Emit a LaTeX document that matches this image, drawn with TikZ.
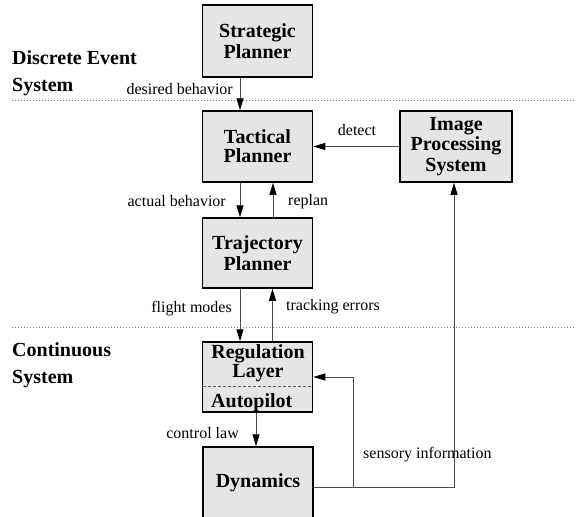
\documentclass[tikz,border=0pt]{standalone}
\usepackage{fontspec}
\setmainfont{Liberation Serif}
\usetikzlibrary{arrows.meta}

\tikzset{
  block/.style={draw=black, line width=1.5pt, fill=gray!20, minimum width=110pt,
    minimum height=71pt, align=center, inner sep=0pt,
    font=\fontsize{20}{20.5}\selectfont\bfseries},
  flow/.style={draw=gray!60!black, line width=0.9pt,
    -{Triangle[length=12pt,width=7pt,color=black]}},
  lbl/.style={font=\fontsize{16}{18}\selectfont, inner sep=0pt},
  layer/.style={font=\fontsize{20}{27}\selectfont\bfseries, align=left, inner sep=0pt},
  sep/.style={gray, line width=0.6pt, dash pattern=on 0.8pt off 2.2pt},
}

\begin{document}
\begin{tikzpicture}[x=1pt, y=-1pt]
  \useasboundingbox (0,0) rectangle (576,517);

  % level separators
  \draw[sep] (12,100) -- (576,100);
  \draw[sep] (12,327) -- (576,327);

  % level titles
  \node[layer, anchor=north west] (discrete) at (12,50) {Discrete Event\\System};
  \node[layer, anchor=north west] (continuous) at (12,342) {Continuous\\System};

  % blocks
  \node[block, minimum height=72pt] (strat) at (257.5,41) {Strategic\\Planner};
  \node[block, font=\fontsize{20}{19}\selectfont\bfseries] (tact) at (257.5,146.5) {Tactical\\Planner};
  \node[block, minimum width=112pt] (imgp) at (456,146.5) {Image\\Processing\\System};
  \node[block, minimum height=70pt] (traj) at (257.5,253) {Trajectory\\Planner};
  \node[block, minimum height=70pt] (reg) at (257.5,377) {};
  \node[block, minimum height=72pt] (dyn) at (258,483) {Dynamics};

  % regulation layer / autopilot split
  \coordinate (regsplit) at (0,386);
  \draw[gray!70!black, line width=0.8pt, dash pattern=on 3pt off 2pt]
    ([xshift=1pt]reg.west |- regsplit) -- ([xshift=-1pt]reg.east |- regsplit);
  \node[font=\fontsize{20}{19}\selectfont\bfseries, align=center, inner sep=0pt]
    (regtxt) at (258,363) {Regulation\\Layer};
  \node[font=\fontsize{20}{20}\selectfont\bfseries, inner sep=0pt, anchor=base west]
    (autotxt) at (211,407) {Autopilot};

  % vertical flows
  \draw[flow] ([xshift=-17.5pt]strat.south) -- ([xshift=-17.5pt]tact.north); % desired
  \draw[flow] ([xshift=-17.5pt]tact.south) -- ([xshift=-17.5pt]traj.north);  % actual
  \draw[flow] ([xshift=15.5pt]traj.north) -- ([xshift=15.5pt]tact.south);    % replan
  \draw[flow] ([xshift=-17.5pt]traj.south) -- ([xshift=-17.5pt]reg.north);   % modes
  \draw[flow] ([xshift=15pt]reg.north) -- ([xshift=15pt]traj.south);         % errors
  \draw[flow] ([xshift=-1.5pt]reg.south) -- ([xshift=-1.5pt]reg.south |- dyn.north); % law

  % image processing feedback
  \draw[flow] (imgp.west) -- (tact.east);

  % sensory information
  \coordinate (sensbranch) at (353,487);
  \coordinate (sensturn) at (454,487);
  \draw[flow] (dyn.east |- sensbranch) -- (sensturn) -- (sensturn |- imgp.south);
  \draw[flow] (sensbranch) |- (reg.east);

  % flow labels
  \node[lbl, anchor=east] (desired) at (233,89) {desired behavior};
  \node[lbl, anchor=east] (actual) at (226,201) {actual behavior};
  \node[lbl, anchor=west] (replan) at (288,202) {replan};
  \node[lbl, anchor=east] (modes) at (232,309) {flight modes};
  \node[lbl, anchor=west] (errors) at (286,307) {tracking errors};
  \node[lbl] (detect) at (357,130) {detect};
  \node[lbl, anchor=east] (law) at (239,433) {control law};
  \node[lbl, anchor=west] (sensory) at (363,455) {sensory information};
\end{tikzpicture}
\end{document}
